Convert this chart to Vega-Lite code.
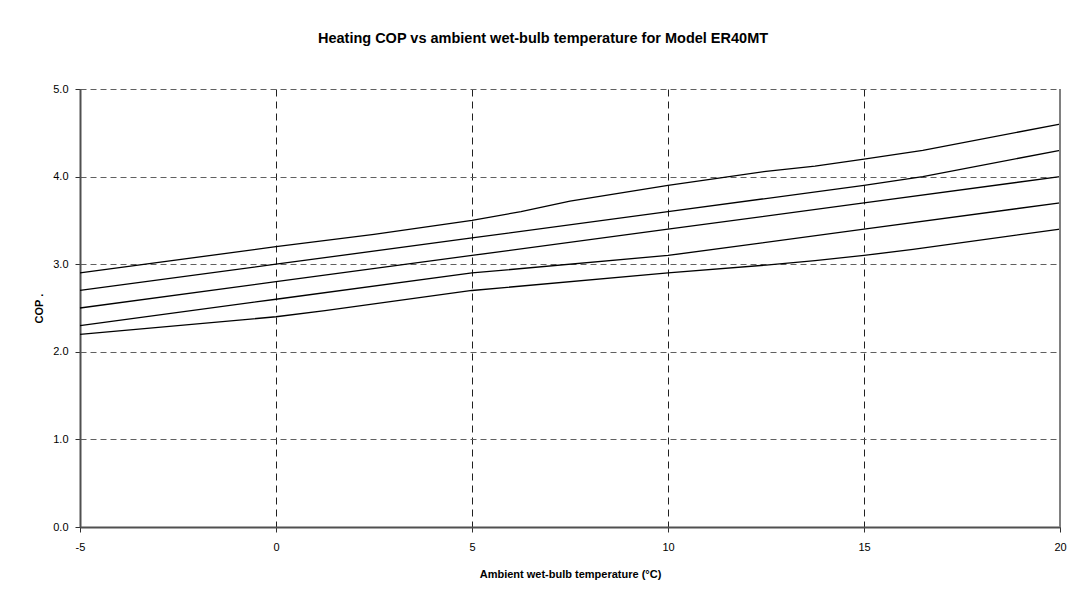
{
  "$schema": "https://vega.github.io/schema/vega-lite/v6.json",
  "autosize": {"type": "none"},
  "width": 980,
  "height": 438,
  "padding": {"left": 80, "top": 89, "right": 23, "bottom": 75},
  "background": "white",
  "title": {
    "text": "Heating COP vs ambient wet-bulb temperature for Model ER40MT",
    "font": "Liberation Sans",
    "fontSize": 14.5,
    "fontWeight": "bold",
    "color": "black",
    "offset": 37,
    "dx": -27,
    "anchor": "middle"
  },
  "config": {
    "view": {"stroke": null},
    "axis": {
      "labelFont": "Liberation Sans",
      "labelFontSize": 11,
      "labelColor": "black",
      "labelFlush": false,
      "titleFont": "Liberation Sans",
      "titleFontSize": 11,
      "titleFontWeight": "bold",
      "titleColor": "black",
      "domainColor": "#505050",
      "domainWidth": 2,
      "tickColor": "#303030",
      "tickSize": 5,
      "tickWidth": 1
    }
  },
  "data": {
    "values": [
      {"t": -5, "cop": 2.9, "s": "a"},
      {"t": 0, "cop": 3.2, "s": "a"},
      {"t": 2.5, "cop": 3.34, "s": "a"},
      {"t": 5, "cop": 3.5, "s": "a"},
      {"t": 6.25, "cop": 3.6, "s": "a"},
      {"t": 7.5, "cop": 3.72, "s": "a"},
      {"t": 10, "cop": 3.9, "s": "a"},
      {"t": 11.25, "cop": 3.98, "s": "a"},
      {"t": 12.5, "cop": 4.06, "s": "a"},
      {"t": 13.75, "cop": 4.12, "s": "a"},
      {"t": 15, "cop": 4.2, "s": "a"},
      {"t": 16.5, "cop": 4.3, "s": "a"},
      {"t": 20, "cop": 4.6, "s": "a"},
      {"t": -5, "cop": 2.7, "s": "b"},
      {"t": 0, "cop": 3.0, "s": "b"},
      {"t": 5, "cop": 3.3, "s": "b"},
      {"t": 10, "cop": 3.6, "s": "b"},
      {"t": 15, "cop": 3.9, "s": "b"},
      {"t": 16.5, "cop": 4.0, "s": "b"},
      {"t": 20, "cop": 4.3, "s": "b"},
      {"t": -5, "cop": 2.5, "s": "c"},
      {"t": 0, "cop": 2.8, "s": "c"},
      {"t": 5, "cop": 3.1, "s": "c"},
      {"t": 10, "cop": 3.4, "s": "c"},
      {"t": 15, "cop": 3.7, "s": "c"},
      {"t": 20, "cop": 4.0, "s": "c"},
      {"t": -5, "cop": 2.3, "s": "d"},
      {"t": 0, "cop": 2.6, "s": "d"},
      {"t": 5, "cop": 2.9, "s": "d"},
      {"t": 10, "cop": 3.1, "s": "d"},
      {"t": 15, "cop": 3.4, "s": "d"},
      {"t": 20, "cop": 3.7, "s": "d"},
      {"t": -5, "cop": 2.2, "s": "e"},
      {"t": 0, "cop": 2.4, "s": "e"},
      {"t": 1.25, "cop": 2.47, "s": "e"},
      {"t": 5, "cop": 2.7, "s": "e"},
      {"t": 10, "cop": 2.9, "s": "e"},
      {"t": 12.5, "cop": 2.99, "s": "e"},
      {"t": 13.75, "cop": 3.04, "s": "e"},
      {"t": 15, "cop": 3.1, "s": "e"},
      {"t": 16.25, "cop": 3.17, "s": "e"},
      {"t": 20, "cop": 3.4, "s": "e"}
    ]
  },
  "layer": [
    {
      "mark": {"type": "line", "color": "black", "strokeWidth": 1.3},
      "encoding": {
        "x": {
          "field": "t",
          "type": "quantitative",
          "scale": {"domain": [-5, 20], "nice": false},
          "axis": {
            "values": [-5, 0, 5, 10, 15, 20],
            "labelExpr": "'' + datum.value",
            "title": "Ambient wet-bulb temperature (°C)",
            "labelPadding": 9,
            "titlePadding": 16,
            "grid": true,
            "gridColor": "#202020",
            "gridDash": [7, 5],
            "gridWidth": 1
          }
        },
        "y": {
          "field": "cop",
          "type": "quantitative",
          "scale": {"domain": [0, 5], "nice": false},
          "axis": {
            "values": [0, 1, 2, 3, 4, 5],
            "format": ".1f",
            "title": "COP     .",
            "labelPadding": 7,
            "titlePadding": 8,
            "grid": true,
            "gridColor": "#606060",
            "gridDash": [6, 4],
            "gridWidth": 1.2
          }
        },
        "detail": {"field": "s"}
      }
    },
    {
      "mark": {"type": "rule", "color": "#808080", "strokeWidth": 1.2},
      "encoding": {"x": {"datum": 20}}
    }
  ]
}
